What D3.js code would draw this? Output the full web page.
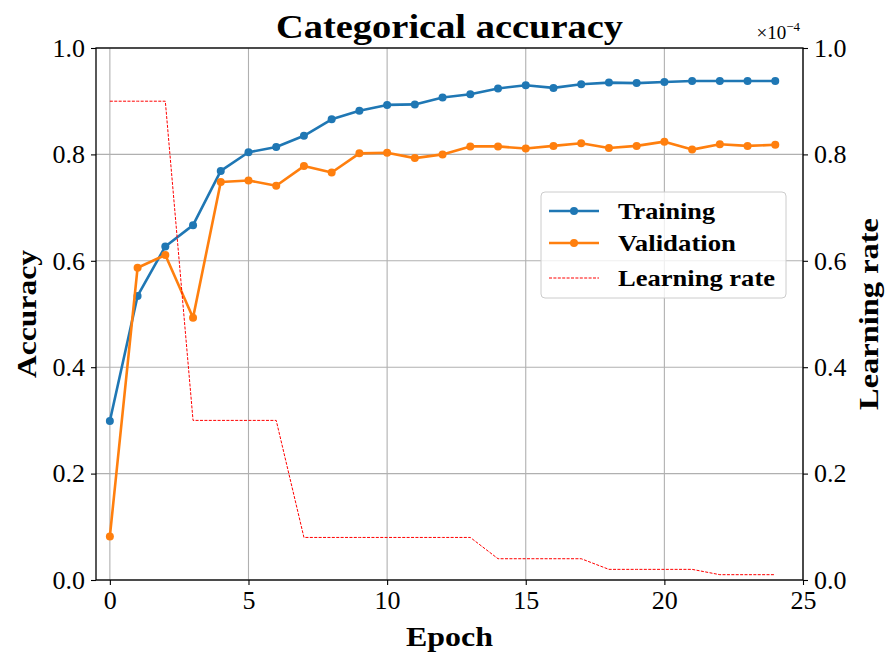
<!DOCTYPE html>
<html>
<head>
<meta charset="utf-8">
<script src="https://cdn.jsdelivr.net/npm/d3@7"></script>
<style>
  body { margin: 0; background: #fff; }
  svg { display: block; }
  text { font-family: "Liberation Serif", "Times New Roman", serif; fill: #000; }
</style>
</head>
<body>
<svg id="chart" width="888" height="658"></svg>
<script>
// ---- data ----
const epochs = d3.range(0, 25);
const training = [0.299, 0.534, 0.627, 0.667, 0.769, 0.804, 0.814, 0.835, 0.866, 0.882,
                  0.893, 0.894, 0.907, 0.913, 0.924, 0.930, 0.925, 0.932, 0.935, 0.934,
                  0.936, 0.938, 0.938, 0.938, 0.938];
const validation = [0.082, 0.587, 0.611, 0.493, 0.748, 0.751, 0.741, 0.778, 0.766, 0.802,
                    0.803, 0.793, 0.800, 0.815, 0.815, 0.811, 0.816, 0.821, 0.812, 0.816,
                    0.824, 0.809, 0.819, 0.816, 0.818];
const learningRate = [9e-5, 9e-5, 9e-5, 3e-5, 3e-5, 3e-5, 3e-5, 8e-6, 8e-6, 8e-6,
                      8e-6, 8e-6, 8e-6, 8e-6, 4e-6, 4e-6, 4e-6, 4e-6, 2e-6, 2e-6,
                      2e-6, 2e-6, 1e-6, 1e-6, 1e-6];
const xTicks = [0, 5, 10, 15, 20, 25];
const yTicks = [0, 0.2, 0.4, 0.6, 0.8, 1.0];
const y2Ticks = [0, 0.2e-4, 0.4e-4, 0.6e-4, 0.8e-4, 1.0e-4];
const legendLabels = ["Training", "Validation", "Learning rate"];
const colors = ["#1f77b4", "#ff7f0e", "#ff0000"];

// ---- layout ----
const W = 888, H = 658;
const m = { left: 96, top: 48, right: 85, bottom: 78 };
const pw = W - m.left - m.right, ph = H - m.top - m.bottom;

const svg = d3.select("#chart");
const g = svg.append("g").attr("transform", `translate(${m.left},${m.top})`);

const x = d3.scaleLinear().domain([-0.5, 25]).range([0, pw]);
const y = d3.scaleLinear().domain([0, 1]).range([ph, 0]);
const y2 = d3.scaleLinear().domain([0, 1e-4]).range([ph, 0]);

// grid
const grid = g.append("g");
grid.selectAll(".gx").data(xTicks).join("line")
  .attr("x1", d => x(d)).attr("x2", d => x(d)).attr("y1", 0).attr("y2", ph)
  .attr("stroke", "#b0b0b0").attr("stroke-width", 1.1);
grid.selectAll(".gy").data(yTicks).join("line")
  .attr("x1", 0).attr("x2", pw).attr("y1", d => y(d)).attr("y2", d => y(d))
  .attr("stroke", "#b0b0b0").attr("stroke-width", 1.1);

// series
const series = [training, validation];
series.forEach((s, i) => {
  const line = d3.line().x((d, j) => x(epochs[j])).y(d => y(d));
  g.append("path").datum(s).attr("d", line)
    .attr("fill", "none").attr("stroke", colors[i]).attr("stroke-width", 2.6)
    .attr("stroke-linejoin", "round");
  g.selectAll(null).data(s).join("circle")
    .attr("cx", (d, j) => x(epochs[j])).attr("cy", d => y(d)).attr("r", 4)
    .attr("fill", colors[i]);
});

// learning rate (twin axis)
const lrLine = d3.line().x((d, j) => x(epochs[j])).y(d => y2(d));
g.append("path").datum(learningRate).attr("d", lrLine)
  .attr("fill", "none").attr("stroke", colors[2]).attr("stroke-width", 1)
  .attr("stroke-dasharray", "3,1.4");

// axes
const fs = 26;
const xAxis = d3.axisBottom(x).tickValues(xTicks).tickSize(5).tickPadding(6).tickFormat(d3.format("d"));
const yAxis = d3.axisLeft(y).tickValues(yTicks).tickSize(5).tickPadding(6).tickFormat(d3.format(".1f"));
const y2Axis = d3.axisRight(y2).tickValues(y2Ticks).tickSize(5).tickPadding(6).tickFormat(d => (d / 1e-4).toFixed(1));

function styleAxis(sel) {
  sel.select(".domain").remove();
  sel.selectAll(".tick line").attr("stroke", "#000").attr("stroke-width", 1.1);
  sel.selectAll(".tick text").style("font-size", fs + "px").style("font-family", "Liberation Serif, serif");
}
g.append("g").attr("transform", `translate(0,${ph})`).call(xAxis).call(styleAxis);
g.append("g").call(yAxis).call(styleAxis);
g.append("g").attr("transform", `translate(${pw},0)`).call(y2Axis).call(styleAxis);

// spines
g.append("rect").attr("x", 0).attr("y", 0).attr("width", pw).attr("height", ph)
  .attr("fill", "none").attr("stroke", "#000").attr("stroke-width", 1.3);

// offset text
const off = svg.append("text").attr("x", m.left + pw - 3).attr("y", m.top - 9)
  .attr("text-anchor", "end").style("font-size", "19px");
off.append("tspan").text("×10");
off.append("tspan").attr("dy", -8).style("font-size", "13px").text("−4");

// title & labels
svg.append("text").attr("x", m.left + pw / 2).attr("y", 38).attr("text-anchor", "middle")
  .attr("textLength", 347).attr("lengthAdjust", "spacingAndGlyphs")
  .style("font-size", "33px").style("font-weight", "bold").text("Categorical accuracy");
svg.append("text").attr("x", m.left + pw / 2).attr("y", 646).attr("text-anchor", "middle")
  .attr("textLength", 87).attr("lengthAdjust", "spacingAndGlyphs")
  .style("font-size", "27px").style("font-weight", "bold").text("Epoch");
svg.append("text").attr("transform", `translate(36,${m.top + ph / 2}) rotate(-90)`)
  .attr("text-anchor", "middle").attr("textLength", 128).attr("lengthAdjust", "spacingAndGlyphs")
  .style("font-size", "27px").style("font-weight", "bold").text("Accuracy");
svg.append("text").attr("transform", `translate(878,${m.top + ph / 2}) rotate(-90)`)
  .attr("text-anchor", "middle").attr("textLength", 192).attr("lengthAdjust", "spacingAndGlyphs")
  .style("font-size", "27px").style("font-weight", "bold").text("Learning rate");

// legend
const legendWidths = [97, 118, 157];
const lg = svg.append("g").attr("transform", "translate(541,192)");
lg.append("rect").attr("width", 245).attr("height", 106).attr("rx", 4)
  .attr("fill", "#fff").attr("fill-opacity", 0.8).attr("stroke", "#cccccc").attr("stroke-width", 1);
legendLabels.forEach((lab, i) => {
  const cy = [19, 51, 86][i];
  lg.append("line").attr("x1", 8).attr("x2", 58).attr("y1", cy).attr("y2", cy)
    .attr("stroke", colors[i]).attr("stroke-width", i < 2 ? 2.6 : 1)
    .attr("stroke-dasharray", i < 2 ? null : "3,1.4");
  if (i < 2) lg.append("circle").attr("cx", 33).attr("cy", cy).attr("r", 4).attr("fill", colors[i]);
  lg.append("text").attr("x", 77).attr("y", cy + 8).style("font-size", "23px")
    .attr("textLength", legendWidths[i]).attr("lengthAdjust", "spacingAndGlyphs")
    .style("font-weight", "bold").text(lab);
});
</script>
</body>
</html>
